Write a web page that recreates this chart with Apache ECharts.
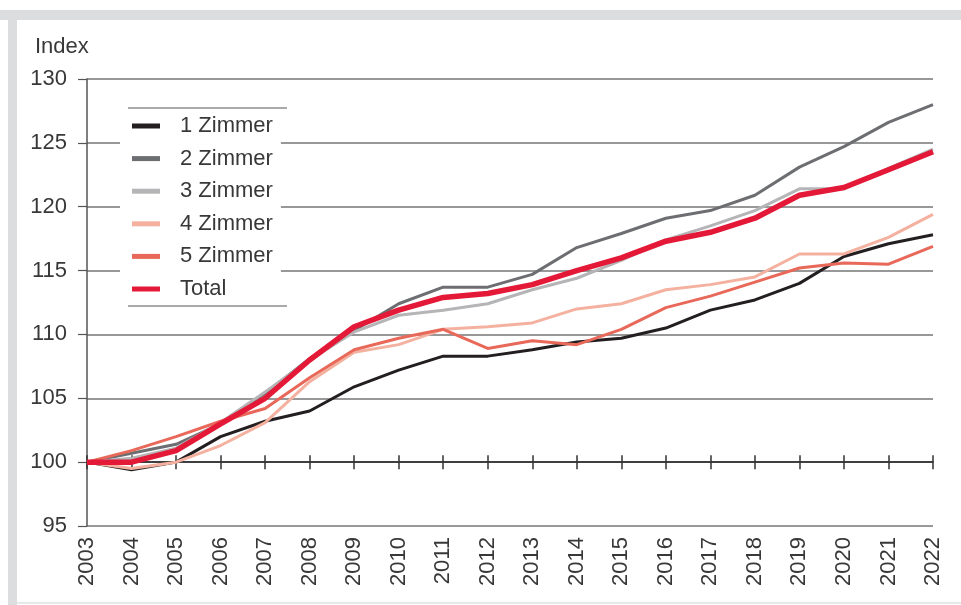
<!DOCTYPE html>
<html>
<head>
<meta charset="utf-8">
<script src="https://cdn.jsdelivr.net/npm/echarts@6/dist/echarts.min.js"></script>
<style>
  html, body { margin: 0; padding: 0; background: #ffffff; }
  #chart { width: 961px; height: 605px; }
</style>
</head>
<body>
<div id="chart"></div>
<script>
const years = ['2003','2004','2005','2006','2007','2008','2009','2010','2011','2012','2013','2014','2015','2016','2017','2018','2019','2020','2021','2022'];
const zimmer1 = [100, 99.4, 100.0, 102.0, 103.2, 104.0, 105.9, 107.2, 108.3, 108.3, 108.8, 109.4, 109.7, 110.5, 111.9, 112.7, 114.0, 116.1, 117.1, 117.8];
const zimmer2 = [100, 100.7, 101.4, 103.0, 105.4, 108.1, 110.3, 112.4, 113.7, 113.7, 114.7, 116.8, 117.9, 119.1, 119.7, 120.9, 123.1, 124.7, 126.6, 128.0];
const zimmer3 = [100, 100.3, 101.1, 103.1, 105.5, 108.0, 110.2, 111.5, 111.9, 112.4, 113.5, 114.4, 115.8, 117.4, 118.5, 119.7, 121.4, 121.4, 123.0, 124.5];
const zimmer4 = [100, 99.5, 100.0, 101.3, 103.1, 106.3, 108.6, 109.2, 110.4, 110.6, 110.9, 112.0, 112.4, 113.5, 113.9, 114.5, 116.3, 116.3, 117.6, 119.4];
const zimmer5 = [100, 100.9, 102.0, 103.2, 104.2, 106.6, 108.8, 109.7, 110.4, 108.9, 109.5, 109.2, 110.4, 112.1, 113.0, 114.1, 115.2, 115.6, 115.5, 116.9];
const total   = [100, 100.0, 100.9, 103.0, 105.0, 108.0, 110.6, 111.9, 112.9, 113.2, 113.9, 115.0, 116.0, 117.3, 118.0, 119.1, 120.9, 121.5, 122.9, 124.3];
const seriesNames = ['1 Zimmer', '2 Zimmer', '3 Zimmer', '4 Zimmer', '5 Zimmer', 'Total'];
const yMin = 95, yMax = 130, yStep = 5, axisCross = 100;

const colors = ['#231f20', '#6d6e71', '#b5b5b8', '#f4b1a0', '#e8695a', '#e31937'];
const widths = [3, 3, 3, 3, 3, 5.5];
const values = [zimmer1, zimmer2, zimmer3, zimmer4, zimmer5, total];

const FONT = 'Liberation Sans, Arial, sans-serif';
const gridTop = 79, gridBottom = 79, H = 605;
const gridH = H - gridTop - gridBottom;
const crossOffset = -gridH * (axisCross - yMin) / (yMax - yMin);

const chart = echarts.init(document.getElementById('chart'), null, { renderer: 'canvas' });
const xBase = { type: 'category', data: years, boundaryGap: false, gridIndex: 0 };
chart.setOption({
  animation: false,
  backgroundColor: '#ffffff',
  title: {
    text: 'Index', left: 30, top: 31,
    textStyle: { fontFamily: FONT, fontSize: 22, fontWeight: 'normal', color: '#383838' }
  },
  graphic: [
    { type: 'rect', shape: { x: 0, y: 10, width: 961, height: 10 }, style: { fill: '#dcdddf' }, z: -1 },
    { type: 'rect', shape: { x: 8, y: 10, width: 9, height: 595 }, style: { fill: '#dcdddf' }, z: -1 },
    { type: 'rect', shape: { x: 17, y: 602, width: 944, height: 2 }, style: { fill: '#e8e8e8' }, z: -1 },
    { type: 'line', shape: { x1: 128, y1: 108, x2: 287, y2: 108 }, style: { stroke: '#555555', lineWidth: 1 }, z: 100 },
    { type: 'line', shape: { x1: 128, y1: 306, x2: 287, y2: 306 }, style: { stroke: '#555555', lineWidth: 1 }, z: 100 }
  ],
  legend: {
    orient: 'vertical',
    left: 120, top: 110,
    padding: [5, 8, 5, 12],
    backgroundColor: '#ffffff',
    itemWidth: 28, itemHeight: 5,
    itemGap: 10.6,
    icon: 'rect',
    data: seriesNames,
    textStyle: { fontFamily: FONT, fontSize: 22, color: '#383838', lineHeight: 22, padding: [0, 0, 0, 15] },
    z: 50
  },
  grid: { left: 87, right: 28, top: gridTop, bottom: gridBottom, containLabel: false },
  xAxis: [
    Object.assign({}, xBase, {
      position: 'bottom',
      axisLine: { show: false },
      axisTick: { show: false },
      axisLabel: { rotate: 90, margin: 11, fontFamily: FONT, fontSize: 22, color: '#383838' }
    }),
    Object.assign({}, xBase, {
      position: 'bottom', offset: crossOffset,
      axisLine: { show: true, lineStyle: { color: '#222222', width: 1.5 } },
      axisTick: { show: true, inside: false, length: 7, lineStyle: { color: '#333333', width: 1.5 } },
      axisLabel: { show: false }
    }),
    Object.assign({}, xBase, {
      position: 'bottom', offset: crossOffset,
      axisLine: { show: false },
      axisTick: { show: true, inside: true, length: 7, lineStyle: { color: '#333333', width: 1.5 } },
      axisLabel: { show: false }
    })
  ],
  yAxis: {
    type: 'value', min: yMin, max: yMax, interval: yStep,
    axisLine: { show: true, lineStyle: { color: '#555555', width: 1.5 } },
    axisTick: { show: true, length: 9, lineStyle: { color: '#555555', width: 1.2 } },
    axisLabel: { margin: 20, fontFamily: FONT, fontSize: 22, color: '#383838' },
    splitLine: { show: true, lineStyle: { color: '#767676', width: 1.5 } }
  },
  series: seriesNames.map((name, i) => ({
    name: name,
    type: 'line',
    xAxisIndex: 0,
    data: values[i],
    symbol: 'none',
    color: colors[i],
    lineStyle: { color: colors[i], width: widths[i], join: 'round' },
    z: 2 + i
  }))
});
</script>
</body>
</html>
